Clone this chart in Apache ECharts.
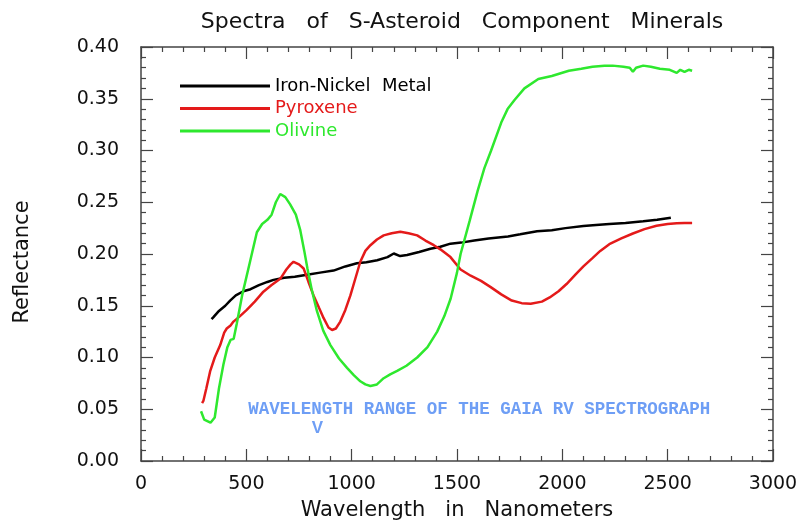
<!DOCTYPE html>
<html>
<head>
<meta charset="utf-8">
<title>Spectra of S-Asteroid Component Minerals</title>
<script src="https://cdn.jsdelivr.net/npm/echarts@6/dist/echarts.min.js"></script>
<style>
  html, body { margin: 0; padding: 0; background: #ffffff; overflow: hidden; }
  #chart { width: 811px; height: 527px; }
</style>
</head>
<body>
<div id="chart"></div>
<script>
// Reflectance spectra: [wavelength (nm), reflectance]
const ironNickelMetal = [
  [335,0.137],[344,0.139],[370,0.145],[400,0.150],[423,0.155],[450,0.160],[486,0.164],
  [520,0.166],[560,0.170],[600,0.173],[629,0.175],[680,0.177],[730,0.178],[788,0.180],
  [850,0.182],[914,0.184],[970,0.188],[1025,0.191],[1070,0.192],[1121,0.194],[1170,0.197],
  [1200,0.2005],[1230,0.198],[1263,0.199],[1320,0.202],[1374,0.205],[1421,0.207],[1469,0.210],
  [1520,0.211],[1582,0.213],[1650,0.215],[1742,0.217],[1800,0.219],[1880,0.222],[1950,0.223],
  [2015,0.225],[2100,0.227],[2160,0.228],[2223,0.229],[2300,0.230],[2384,0.2316],[2450,0.233],
  [2515,0.235]
];

const pyroxene = [
  [290,0.056],[296,0.058],[310,0.070],[328,0.0865],[350,0.100],[376,0.112],[395,0.124],
  [407,0.128],[425,0.131],[439,0.1347],[470,0.140],[502,0.146],[540,0.154],[581,0.1636],
  [620,0.170],[661,0.176],[690,0.185],[710,0.190],[724,0.1925],[750,0.190],[772,0.186],
  [795,0.173],[819,0.160],[845,0.148],[867,0.138],[890,0.129],[907,0.1266],[925,0.128],
  [946,0.1347],[970,0.146],[994,0.160],[1020,0.178],[1041,0.1925],[1065,0.203],[1089,0.2085],
  [1120,0.214],[1152,0.218],[1190,0.220],[1231,0.2214],[1270,0.220],[1311,0.218],[1350,0.213],
  [1390,0.2085],[1421,0.2045],[1469,0.197],[1517,0.185],[1565,0.179],[1614,0.174],[1660,0.168],
  [1710,0.161],[1760,0.155],[1807,0.1525],[1850,0.152],[1903,0.154],[1940,0.158],[1982,0.164],
  [2020,0.171],[2062,0.180],[2100,0.188],[2143,0.196],[2180,0.203],[2223,0.2095],[2280,0.215],
  [2335,0.2198],[2390,0.224],[2447,0.2273],[2500,0.229],[2543,0.2296],[2580,0.230],[2616,0.230]
];

const olivine = [
  [285,0.048],[300,0.040],[330,0.037],[350,0.042],[370,0.070],[391,0.093],[410,0.110],
  [425,0.117],[440,0.118],[455,0.133],[480,0.160],[518,0.193],[550,0.221],[575,0.229],
  [600,0.233],[620,0.238],[640,0.250],[661,0.258],[685,0.255],[708,0.248],[735,0.238],
  [756,0.223],[775,0.203],[790,0.186],[810,0.166],[835,0.145],[865,0.126],[899,0.112],
  [940,0.099],[978,0.090],[1010,0.083],[1041,0.077],[1065,0.074],[1089,0.0725],[1120,0.074],
  [1152,0.080],[1185,0.084],[1216,0.087],[1260,0.092],[1311,0.100],[1360,0.110],[1406,0.125],
  [1440,0.140],[1470,0.157],[1500,0.182],[1517,0.200],[1560,0.232],[1598,0.261],[1630,0.283],
  [1662,0.300],[1710,0.327],[1740,0.340],[1774,0.349],[1820,0.360],[1886,0.369],[1950,0.372],
  [2031,0.377],[2090,0.379],[2143,0.381],[2200,0.382],[2239,0.382],[2290,0.381],[2320,0.380],
  [2335,0.376],[2350,0.380],[2384,0.382],[2420,0.381],[2463,0.379],[2510,0.378],[2543,0.375],
  [2560,0.378],[2580,0.376],[2600,0.378],[2616,0.377]
];

const seriesNames = ['Iron-Nickel  Metal', 'Pyroxene', 'Olivine'];
const seriesColors = ['#000000', '#e41a1a', '#2ee82e'];

// Note about the Gaia RV spectrograph window, anchored in data space
const gaiaNoteText = 'WAVELENGTH RANGE OF THE GAIA RV SPECTROGRAPH';
const gaiaNoteAt = [[509, 0.050]];
const gaiaArrowAt = [[838, 0.032]];

const xTicks = { min: 0, max: 3000, interval: 500 };
const yTicks = { min: 0, max: 0.40, interval: 0.05 };

const frameColor = '#444444';
const labelFont = { fontFamily: 'DejaVu Sans', fontSize: 19, color: '#111111' };
const nameFont = { fontFamily: 'DejaVu Sans', fontSize: 21, color: '#111111' };

function frameAxis(extra) {
  return Object.assign({
    axisLine: { show: true, onZero: false, lineStyle: { color: frameColor, width: 1.5 } },
    axisTick: { show: true, inside: true, length: 12, lineStyle: { color: frameColor, width: 1.2 } },
    minorTick: { show: true, splitNumber: 5, length: 5, lineStyle: { color: frameColor, width: 1.2 } },
    splitLine: { show: false },
    minorSplitLine: { show: false }
  }, extra);
}

const chart = echarts.init(document.getElementById('chart'), null, { renderer: 'canvas' });

chart.setOption({
  animation: false,
  backgroundColor: '#ffffff',
  title: {
    text: 'Spectra   of   S-Asteroid   Component   Minerals',
    left: 457,
    textAlign: 'center',
    top: 6,
    textStyle: { fontFamily: 'DejaVu Sans', fontSize: 22, fontWeight: 'normal', color: '#111111' }
  },
  legend: {
    orient: 'vertical',
    left: 175,
    top: 71,
    itemWidth: 90,
    itemHeight: 3,
    itemGap: 2.5,
    icon: 'rect',
    selectedMode: false,
    data: seriesNames.map((n, i) => ({
      name: n,
      textStyle: { color: seriesColors[i], fontFamily: 'DejaVu Sans', fontSize: 18, lineHeight: 20 }
    }))
  },
  grid: { left: 141, right: 38, top: 47, bottom: 66, containLabel: false, outerBoundsMode: 'none' },
  xAxis: [
    frameAxis({
      type: 'value', position: 'bottom',
      min: xTicks.min, max: xTicks.max, interval: xTicks.interval,
      name: 'Wavelength   in   Nanometers', nameLocation: 'middle', nameGap: 39,
      nameTextStyle: nameFont,
      axisLabel: Object.assign({ margin: 14, formatter: v => String(v) }, labelFont)
    }),
    frameAxis({
      type: 'value', position: 'top',
      min: xTicks.min, max: xTicks.max, interval: xTicks.interval,
      axisLabel: { show: false }
    })
  ],
  yAxis: [
    frameAxis({
      type: 'value', position: 'left',
      min: yTicks.min, max: yTicks.max, interval: yTicks.interval,
      name: 'Reflectance', nameLocation: 'middle', nameGap: 108,
      nameTextStyle: Object.assign({ padding: [0, 16, 0, 0] }, nameFont),
      axisLabel: Object.assign({ margin: 22, formatter: v => v.toFixed(2) }, labelFont)
    }),
    frameAxis({
      type: 'value', position: 'right',
      min: yTicks.min, max: yTicks.max, interval: yTicks.interval,
      axisLabel: { show: false }
    })
  ],
  series: [
    {
      name: seriesNames[0], type: 'line', data: ironNickelMetal, showSymbol: false,
      color: seriesColors[0], lineStyle: { width: 2.5, color: seriesColors[0] }
    },
    {
      name: seriesNames[1], type: 'line', data: pyroxene, showSymbol: false,
      color: seriesColors[1], lineStyle: { width: 2.5, color: seriesColors[1] }
    },
    {
      name: seriesNames[2], type: 'line', data: olivine, showSymbol: false,
      color: seriesColors[2], lineStyle: { width: 2.5, color: seriesColors[2] }
    },
    {
      name: 'gaia-note', type: 'scatter', data: gaiaNoteAt, symbolSize: 0, silent: true,
      label: {
        show: true, position: [0, 0], align: 'left', verticalAlign: 'middle',
        formatter: () => gaiaNoteText,
        fontFamily: 'Liberation Mono', fontWeight: 'bold', fontSize: 17.5, color: '#4a86f2'
      }
    },
    {
      name: 'gaia-arrow', type: 'scatter', data: gaiaArrowAt, symbolSize: 0, silent: true,
      label: {
        show: true, position: [0, 0], align: 'center', verticalAlign: 'middle',
        formatter: () => 'V',
        fontFamily: 'Liberation Sans', fontWeight: 'bold', fontSize: 17, color: '#4a86f2'
      }
    }
  ]
});
</script>
</body>
</html>
